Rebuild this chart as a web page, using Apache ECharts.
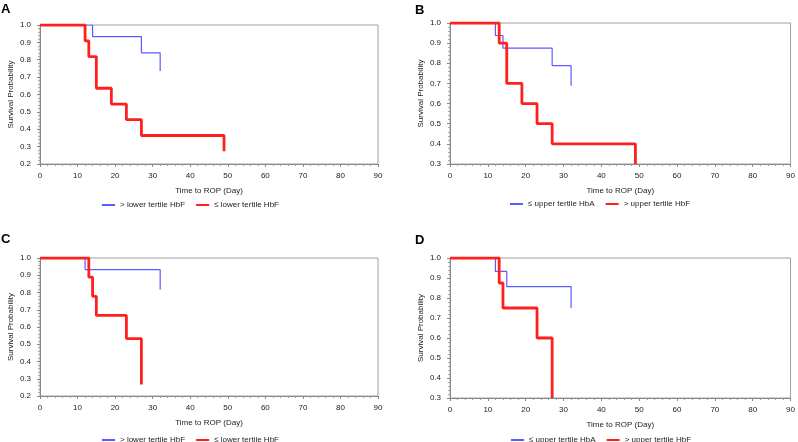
<!DOCTYPE html>
<html>
<head>
<meta charset="utf-8">
<script src="https://cdn.jsdelivr.net/npm/echarts@6/dist/echarts.min.js"></script>
<style>
  html, body { margin: 0; padding: 0; background: #fff; }
  #content { width: 798px; height: 442px; }
</style>
</head>
<body>
<div id="content"></div>
<script>
// x ticks (days)
var dayTicks = [0, 10, 20, 30, 40, 50, 60, 70, 80, 90];

// panel A
var aBlueT = [0, 14, 27, 32];
var aBlueS = [1, 0.933, 0.84, 0.735];
var aRedT = [0, 12, 13, 15, 19, 23, 27, 49];
var aRedS = [1, 0.909, 0.818, 0.636, 0.545, 0.455, 0.364, 0.273];
// panel B
var bBlueT = [0, 12, 14, 27, 32];
var bBlueS = [1, 0.938, 0.875, 0.788, 0.689];
var bRedT = [0, 13, 15, 19, 23, 27, 49];
var bRedS = [1, 0.9, 0.7, 0.6, 0.5, 0.4, 0.3];
// panel C
var cBlueT = [0, 12, 32];
var cBlueS = [1, 0.933, 0.817];
var cRedT = [0, 13, 14, 15, 23, 27];
var cRedS = [1, 0.889, 0.778, 0.667, 0.533, 0.267];
// panel D
var dBlueT = [0, 12, 15, 32];
var dBlueS = [1, 0.933, 0.857, 0.75];
var dRedT = [0, 13, 14, 23, 27];
var dRedS = [1, 0.875, 0.75, 0.6, 0.3];

var lowBlue = "> lower tertile HbF", lowRed = "≤ lower tertile HbF";
var upBlue = "≤ upper tertile HbA", upRed = "> upper tertile HbF";

var FONT = "Liberation Sans, Arial, sans-serif";
var BLUE = "#5b5bff", RED = "#ff1f1f";

function km(t, s) {
  return t.map(function (x, i) { return [x, s[i]]; });
}

function xAx(i) {
  return {
    gridIndex: i, type: "value", min: 0, max: 90, interval: 10,
    name: "Time to ROP (Day)", nameLocation: "middle", nameGap: 23,
    nameTextStyle: { fontFamily: FONT, fontSize: 8, color: "#222" },
    axisLine: { lineStyle: { color: "#888" } },
    axisTick: { length: 3, lineStyle: { color: "#888" } },
    minorTick: { show: true, splitNumber: 5, length: 2, lineStyle: { color: "#999" } },
    splitLine: { show: false },
    axisLabel: { margin: 8, fontFamily: FONT, fontSize: 8, color: "#222",
      formatter: function (v) { return dayTicks.indexOf(v) >= 0 ? v : ""; } },
  };
}

function yAx(i, min) {
  return {
    gridIndex: i, type: "value", min: min, max: 1, interval: 0.1,
    name: "Survival Probability", nameLocation: "middle", nameGap: 25, nameRotate: 90,
    nameTextStyle: { fontFamily: FONT, fontSize: 8, color: "#222" },
    axisLine: { show: true, lineStyle: { color: "#888" } },
    axisTick: { show: true, length: 3, lineStyle: { color: "#888" } },
    minorTick: { show: true, splitNumber: 5, length: 2, lineStyle: { color: "#aaa" } },
    splitLine: { show: false },
    axisLabel: { margin: 9, fontFamily: FONT, fontSize: 8, color: "#222",
      formatter: function (v) { return v.toFixed(1); } },
  };
}

function line(name, i, data, color, w) {
  return {
    name: name, type: "line", step: "end", xAxisIndex: i, yAxisIndex: i,
    data: data, symbol: "none", animation: false,
    lineStyle: { color: color, width: w }, itemStyle: { color: color },
  };
}

function leg(left, top, names) {
  return {
    left: left, top: top, itemWidth: 13, itemHeight: 2, itemGap: 11, icon: "rect",
    data: names, selectedMode: false,
    textStyle: { fontFamily: FONT, fontSize: 8, color: "#222" },
  };
}

function letter(t, left, top) {
  return { text: t, left: left, top: top, padding: 0,
    textStyle: { fontFamily: FONT, fontSize: 13, fontWeight: "bold", color: "#000" } };
}

var chartDom = document.getElementById("content");
var myChart = echarts.init(chartDom);
var gridBox = { show: true, borderColor: "#a0a0a0", borderWidth: 1, backgroundColor: "transparent" };

var option = {
  animation: false,
  title: [letter("A", 1, 3), letter("B", 415, 4), letter("C", 1, 233), letter("D", 415, 234)],
  grid: [
    Object.assign({ left: 40, top: 25, width: 338, height: 139 }, gridBox),
    Object.assign({ left: 450, top: 23, width: 344, height: 141 }, gridBox),
    Object.assign({ left: 40, top: 258, width: 338, height: 138 }, gridBox),
    Object.assign({ left: 450, top: 258, width: 344, height: 140 }, gridBox),
  ],
  xAxis: [xAx(0), xAx(1), xAx(2), xAx(3)],
  yAxis: [yAx(0, 0.2), yAx(1, 0.3), yAx(2, 0.2), yAx(3, 0.3)],
  legend: [
    leg(97, 196, [lowBlue, lowRed]),
    leg(505, 195, [upBlue, upRed]),
    leg(97, 431, [lowBlue, lowRed]),
    leg(506, 431, [upBlue, upRed]),
  ],
  series: [
    line(lowBlue, 0, km(aBlueT, aBlueS), BLUE, 1.2),
    line(lowRed, 0, km(aRedT, aRedS), RED, 2.8),
    line(upBlue, 1, km(bBlueT, bBlueS), BLUE, 1.2),
    line(upRed, 1, km(bRedT, bRedS), RED, 2.8),
    line(lowBlue, 2, km(cBlueT, cBlueS), BLUE, 1.2),
    line(lowRed, 2, km(cRedT, cRedS), RED, 2.8),
    line(upBlue, 3, km(dBlueT, dBlueS), BLUE, 1.2),
    line(upRed, 3, km(dRedT, dRedS), RED, 2.8),
  ],
};
myChart.setOption(option);
</script>
</body>
</html>
